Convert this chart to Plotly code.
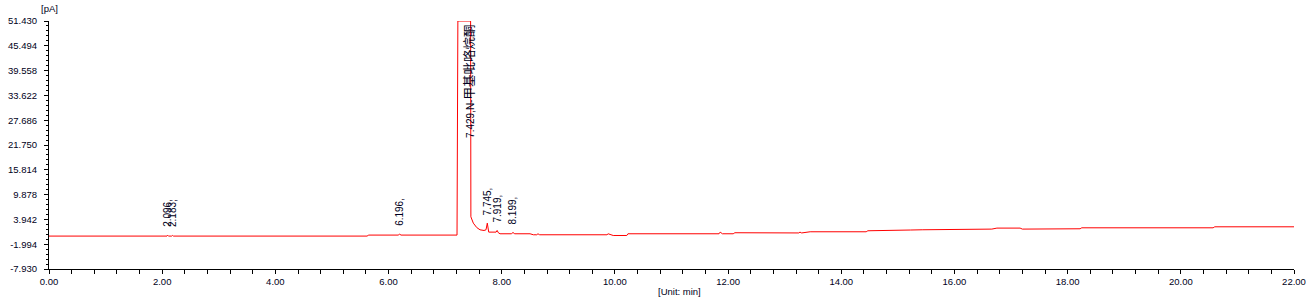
import numpy as np
import plotly.graph_objects as go

# chromatogram trace (time in min, signal in pA)
time_min = [0.00, 2.085, 2.096, 2.11, 2.17, 2.183, 2.20, 5.62, 5.65, 6.17, 6.196, 6.22,
            7.21, 7.225, 7.45, 7.455, 7.498, 7.558, 7.616, 7.687, 7.722, 7.745, 7.770,
            7.90, 7.919, 7.94, 7.97, 8.17, 8.199, 8.23, 8.50, 8.56, 8.62, 8.64, 8.67,
            9.86, 9.88, 9.92, 9.97, 10.21, 10.23, 11.84, 11.86, 11.90, 12.09, 12.12,
            13.25, 13.27, 13.30, 13.45, 14.44, 14.47, 15.18, 15.22, 15.43, 15.83, 15.86,
            16.66, 16.75, 17.16, 17.20, 17.51, 17.87, 18.22, 18.25, 20.57, 20.60, 22.00]
signal_pa = [-0.05, -0.05, 0.15, -0.05, -0.05, 0.10, -0.05, -0.05, 0.19, 0.19, 0.40, 0.19,
             0.19, 51.43, 51.43, 4.56, 3.05, 2.00, 1.45, 1.29, 1.45, 3.05, 0.90,
             0.90, 1.30, 0.75, 0.50, 0.50, 0.80, 0.50, 0.50, 0.26, 0.26, 0.50, 0.26,
             0.26, 0.50, 0.26, 0.09, 0.09, 0.50, 0.50, 0.90, 0.50, 0.50, 0.75,
             0.70, 0.90, 0.70, 0.98, 0.98, 1.22, 1.22, 1.40, 1.46, 1.46, 1.62,
             1.62, 1.86, 1.86, 1.62, 1.62, 1.70, 1.70, 1.93, 1.93, 2.17, 2.17]

# peak labels
peak_rt = [2.096, 2.183, 6.196, 7.745, 7.919, 8.199]
peak_text = ["2.096,", "2.183,", "6.196,", "7.745,", "7.919,", "8.199,"]
main_rt = 7.429
main_text = '7.429,N-<span style="font-size:12.5px">甲基吡咯烷酮</span>'

# axis ticks
y_tick_vals = [-7.930, -1.994, 3.942, 9.878, 15.814, 21.750, 27.686, 33.622, 39.558, 45.494, 51.430]
y_tick_text = ["-7.930", "-1.994", "3.942", "9.878", "15.814", "21.750", "27.686",
               "33.622", "39.558", "45.494", "51.430"]
x_tick_vals = [0, 2, 4, 6, 8, 10, 12, 14, 16, 18, 20, 22]
x_tick_text = ["0.00", "2.00", "4.00", "6.00", "8.00", "10.00", "12.00", "14.00",
               "16.00", "18.00", "20.00", "22.00"]

FONT = "Liberation Sans, Arial, Noto Sans CJK SC, sans-serif"
INK = "#000020"

fig = go.Figure()
fig.add_trace(go.Scatter(x=time_min, y=signal_pa, mode="lines",
                         line=dict(color="#ff0000", width=1), hoverinfo="skip"))

peak_h = np.interp(peak_rt, time_min, signal_pa)
annotations = []
for rt, txt, h in zip(peak_rt, peak_text, peak_h):
    annotations.append(dict(x=rt, y=h, xref="x", yref="y", text=txt, showarrow=False,
                            textangle=-90, xanchor="center", yanchor="bottom",
                            yshift=8, borderpad=0, borderwidth=0,
                            font=dict(family=FONT, size=10, color=INK)))
annotations.append(dict(x=main_rt, y=y_tick_vals[-1], xref="x", yref="y", text=main_text,
                        showarrow=False, textangle=-90, xanchor="center", yanchor="top",
                        yshift=-4, borderpad=0, borderwidth=0,
                        font=dict(family=FONT, size=10, color=INK)))
annotations.append(dict(x=0, y=1.049, xref="paper", yref="paper", text="[pA]",
                        showarrow=False, xanchor="center", yanchor="middle",
                        font=dict(family=FONT, size=9.5, color=INK)))
annotations.append(dict(x=0.4876, y=-0.0913, xref="paper", yref="paper", text="[Unit: min]",
                        showarrow=False, xanchor="left", yanchor="middle",
                        font=dict(family=FONT, size=9.5, color=INK)))

fig.update_layout(
    width=1316, height=304,
    margin=dict(l=49, r=22, t=21, b=35),
    paper_bgcolor="white", plot_bgcolor="white",
    showlegend=False,
    annotations=annotations,
    font=dict(family=FONT, size=10, color=INK),
)
fig.update_xaxes(range=[0, 22], tickmode="array", tickvals=x_tick_vals, ticktext=x_tick_text,
                 ticks="outside", ticklen=4, tickcolor="black", showgrid=False, zeroline=False,
                 showline=True, linecolor="black", linewidth=1, automargin=False,
                 minor=dict(tickmode="linear", tick0=0, dtick=0.4, ticks="outside",
                            ticklen=4, tickcolor="black", showgrid=False),
                 tickfont=dict(family=FONT, size=9.5, color=INK))
fig.update_yaxes(range=[-7.93, 51.43], tickmode="array", tickvals=y_tick_vals, ticktext=y_tick_text,
                 ticks="outside", ticklen=4, tickcolor="black", showgrid=False, zeroline=False,
                 showline=True, linecolor="black", linewidth=1, ticklabelstandoff=5,
                 automargin=False,
                 minor=dict(tickmode="linear", tick0=-7.93, dtick=1.1872, ticks="outside",
                            ticklen=2, tickcolor="black", showgrid=False),
                 tickfont=dict(family=FONT, size=9.5, color=INK))

fig.write_html("out.html")
